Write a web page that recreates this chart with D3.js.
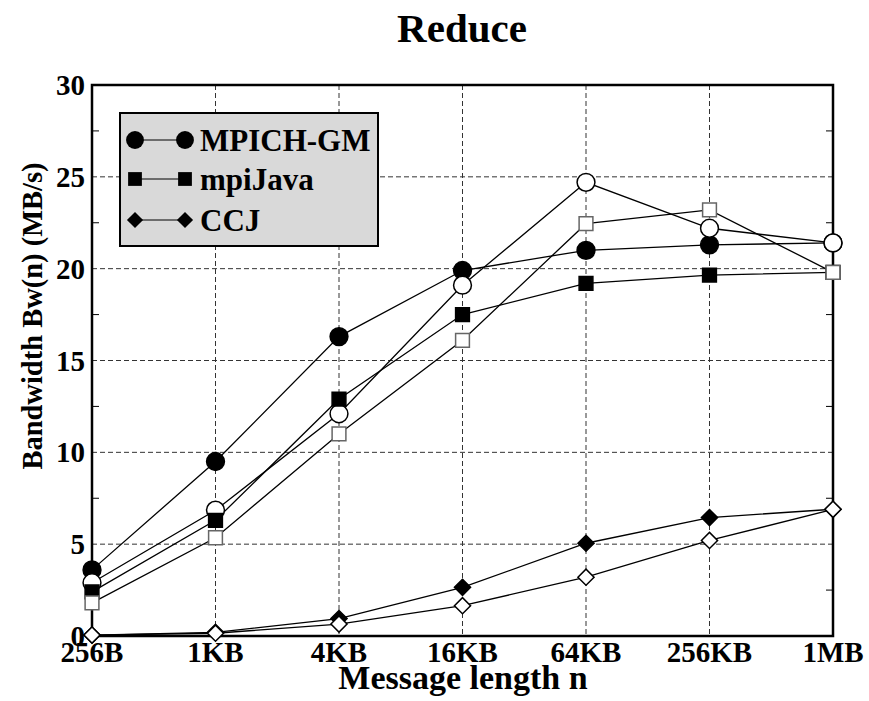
<!DOCTYPE html>
<html>
<head>
<meta charset="utf-8">
<script src="https://cdn.jsdelivr.net/npm/d3@7"></script>
<style>
	body { margin: 0; background: #fff; }
	text { font-family: "Liberation Serif", "Times New Roman", serif; font-weight: bold; fill: #000; }
</style>
</head>
<body>
<div id="main"></div>
<script>

var categories = ["256B", "1KB", "4KB", "16KB", "64KB", "256KB", "1MB"]
var yTicks = [0, 5, 10, 15, 20, 25, 30]

// MB/s
var mpichFilled = [3.6, 9.5, 16.3, 19.9, 21.0, 21.3, 21.4]
var mpichOpen = [2.9, 6.85, 12.1, 19.1, 24.7, 22.2, 21.4]
var mpiJavaFilled = [2.4, 6.3, 12.9, 17.5, 19.2, 19.65, 19.8]
var mpiJavaOpen = [1.8, 5.35, 11.0, 16.1, 22.45, 23.2, 19.8]
var ccjFilled = [0.05, 0.2, 0.95, 2.65, 5.05, 6.45, 6.9]
var ccjOpen = [0.05, 0.15, 0.65, 1.65, 3.2, 5.2, 6.9]

var legendNames = ["MPICH-GM", "mpiJava", "CCJ"]

var W = 869, H = 701
var plotL = 92, plotR = 833, plotT = 85, plotB = 636

var svg = d3.select("#main")
	.append("svg")
	.attr("width", W)
	.attr("height", H)

var x = d3.scalePoint()
	.domain(categories)
	.range([plotL, plotR])

var y = d3.scaleLinear()
	.domain([0, 30])
	.range([plotB, plotT])

// symbol shapes
var shapes = {
	circle: d3.symbol().type(d3.symbolCircle).size(250),
	square: d3.symbol().type(d3.symbolSquare).size(190),
	diamond: d3.symbol().type(d3.symbolSquare).size(130)
}

var series = [
	{ values: mpichFilled, shape: "circle", fill: "#000", stroke: "#000" },
	{ values: mpichOpen, shape: "circle", fill: "#fff", stroke: "#000" },
	{ values: mpiJavaFilled, shape: "square", fill: "#000", stroke: "#000" },
	{ values: mpiJavaOpen, shape: "square", fill: "#fff", stroke: "#666" },
	{ values: ccjFilled, shape: "diamond", fill: "#000", stroke: "#000" },
	{ values: ccjOpen, shape: "diamond", fill: "#fff", stroke: "#000" }
]

// grid
svg.append("g")
	.selectAll("line")
	.data(yTicks.filter(function(d) { return d > 0 && d < 30 }))
	.enter()
	.append("line")
	.attr("x1", plotL).attr("x2", plotR)
	.attr("y1", function(d) { return y(d) }).attr("y2", function(d) { return y(d) })
	.attr("stroke", "#333")
	.attr("stroke-width", 1)
	.attr("stroke-dasharray", "5,3")

svg.append("g")
	.selectAll("line")
	.data(categories.slice(1, -1))
	.enter()
	.append("line")
	.attr("x1", function(d) { return x(d) }).attr("x2", function(d) { return x(d) })
	.attr("y1", plotT).attr("y2", plotB)
	.attr("stroke", "#333")
	.attr("stroke-width", 1)
	.attr("stroke-dasharray", "5,3")

// minor ticks on left and right
var minor = d3.range(2.5, 30, 5)
svg.append("g")
	.selectAll("line")
	.data(minor)
	.enter()
	.append("line")
	.attr("x1", plotL).attr("x2", plotL + 7)
	.attr("y1", function(d) { return y(d) }).attr("y2", function(d) { return y(d) })
	.attr("stroke", "#000")
svg.append("g")
	.selectAll("line")
	.data(minor)
	.enter()
	.append("line")
	.attr("x1", plotR - 7).attr("x2", plotR)
	.attr("y1", function(d) { return y(d) }).attr("y2", function(d) { return y(d) })
	.attr("stroke", "#000")

// frame
svg.append("rect")
	.attr("x", plotL).attr("y", plotT)
	.attr("width", plotR - plotL).attr("height", plotB - plotT)
	.attr("fill", "none")
	.attr("stroke", "#000")
	.attr("stroke-width", 2.5)

// tick labels
svg.append("g")
	.selectAll("text")
	.data(yTicks)
	.enter()
	.append("text")
	.attr("x", plotL - 7)
	.attr("y", function(d) { return y(d) + 10 })
	.attr("text-anchor", "end")
	.style("font-size", "29px")
	.text(function(d) { return d })

svg.append("g")
	.selectAll("text")
	.data(categories)
	.enter()
	.append("text")
	.attr("x", function(d) { return x(d) })
	.attr("y", plotB + 26)
	.attr("text-anchor", "middle")
	.style("font-size", "29px")
	.text(function(d) { return d })

// titles
svg.append("text")
	.attr("x", 462)
	.attr("y", 42)
	.attr("text-anchor", "middle")
	.style("font-size", "41px")
	.text("Reduce")

svg.append("text")
	.attr("x", 463)
	.attr("y", 689)
	.attr("text-anchor", "middle")
	.style("font-size", "34px")
	.text("Message length n")

svg.append("text")
	.attr("transform", "translate(42,316) rotate(-90)")
	.attr("text-anchor", "middle")
	.style("font-size", "28.5px")
	.text("Bandwidth Bw(n) (MB/s)")

// lines + markers
var line = d3.line()
	.x(function(d, i) { return x(categories[i]) })
	.y(function(d) { return y(d) })

series.forEach(function(s) {
	svg.append("path")
		.datum(s.values)
		.attr("d", line)
		.attr("fill", "none")
		.attr("stroke", "#000")
		.attr("stroke-width", 1.3)
})

series.forEach(function(s) {
	svg.append("g")
		.selectAll("path")
		.data(s.values)
		.enter()
		.append("path")
		.attr("d", shapes[s.shape])
		.attr("transform", function(d, i) {
			return "translate(" + x(categories[i]) + "," + y(d) + ")" + (s.shape == "diamond" ? " rotate(45)" : "")
		})
		.attr("fill", s.fill)
		.attr("stroke", s.stroke)
		.attr("stroke-width", 1.5)
})

// legend
var lg = svg.append("g")
lg.append("rect")
	.attr("x", 120).attr("y", 113)
	.attr("width", 258).attr("height", 133)
	.attr("fill", "#d9d9d9")
	.attr("stroke", "#000")
	.attr("stroke-width", 2)

var legendRows = [140, 179, 220]
legendNames.forEach(function(name, i) {
	var s = series[i * 2]
	var ry = legendRows[i]
	lg.append("line")
		.attr("x1", 135).attr("x2", 185)
		.attr("y1", ry).attr("y2", ry)
		.attr("stroke", "#000")
		.attr("stroke-width", 1)
	;[135, 185].forEach(function(mx) {
		lg.append("path")
			.attr("d", shapes[s.shape])
			.attr("transform", "translate(" + mx + "," + ry + ")" + (s.shape == "diamond" ? " rotate(45)" : ""))
			.attr("fill", "#000")
	})
	lg.append("text")
		.attr("x", 200)
		.attr("y", ry + 11)
		.style("font-size", "31px")
		.text(name)
})

</script>
</body>
</html>
